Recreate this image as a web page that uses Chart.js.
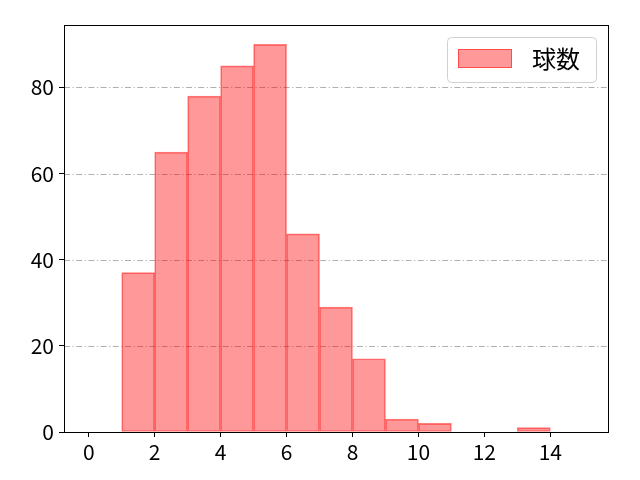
<!DOCTYPE html>
<html>
<head>
<meta charset="utf-8">
<script src="https://cdn.jsdelivr.net/npm/chart.js@4.4.0/dist/chart.umd.min.js"></script>
<style>
html,body{margin:0;padding:0;background:#fff;}
#wrap{width:640px;height:480px;position:relative;}
</style>
</head>
<body>
<div id="wrap"><canvas id="c" width="640" height="480"></canvas></div>
<script>
const binStarts = [0,1,2,3,4,5,6,7,8,9,10,11,12,13,14];
const counts = [0,37,65,78,85,90,46,29,17,3,2,0,0,1,0];
const seriesLabel = '球数';
const xTicks = [0,2,4,6,8,10,12,14];
const yTicks = [0,20,40,60,80];

const FONT = '"Noto Sans CJK JP", "DejaVu Sans", sans-serif';
const data = binStarts.map((s,i)=>({x:s+0.5, y:counts[i]}));

const framePlugin = {
  id:'frame',
  beforeDatasetsDraw(chart){
    const {ctx, chartArea:a, scales:{y}} = chart;
    ctx.save();
    ctx.strokeStyle = '#b0b0b0';
    ctx.lineWidth = 1;
    ctx.setLineDash([6,2.5,1.2,2.5]);
    yTicks.forEach(v=>{
      if (v===0) return;
      const py = Math.round(y.getPixelForValue(v))+0.5;
      ctx.beginPath(); ctx.moveTo(a.left,py); ctx.lineTo(a.right,py); ctx.stroke();
    });
    ctx.restore();
  },
  afterDraw(chart){
    const {ctx, chartArea:a} = chart;
    ctx.save();
    ctx.strokeStyle = '#000';
    ctx.lineWidth = 1;
    ctx.strokeRect(Math.round(a.left)+0.5, Math.round(a.top)+0.5, Math.round(a.right-a.left), Math.round(a.bottom-a.top));
    // legend
    const w=149, h=45;
    const lx = a.right - 12 - w, ly = a.top + 12;
    ctx.fillStyle = 'rgba(255,255,255,0.8)';
    ctx.strokeStyle = '#d0d0d0';
    ctx.beginPath();
    ctx.roundRect(lx+0.5, ly+0.5, w, h, 4);
    ctx.fill(); ctx.stroke();
    const ds = chart.data.datasets[0];
    ctx.fillStyle = ds.backgroundColor;
    ctx.fillRect(lx+11, ly+12, 54, 19);
    ctx.strokeStyle = ds.borderColor;
    ctx.strokeRect(lx+11.5, ly+12.5, 53, 18);
    ctx.fillStyle = '#000';
    ctx.font = '24px ' + FONT;
    ctx.textBaseline = 'middle';
    ctx.textAlign = 'left';
    ctx.fillText(ds.label, lx+85, ly+22);
    ctx.restore();
  }
};

new Chart(document.getElementById('c'), {
  type:'bar',
  data:{datasets:[{
    label: seriesLabel,
    data: data,
    backgroundColor:'rgba(255,0,0,0.4)',
    borderColor:'rgba(255,0,0,0.5)',
    borderWidth:1,
    barPercentage:1,
    categoryPercentage:1,
    borderSkipped:false
  }]},
  options:{
    responsive:false,
    animation:false,
    devicePixelRatio:1,
    layout:{padding:{top:25,right:32,left:0,bottom:0}},
    plugins:{legend:{display:false},tooltip:{enabled:false}},
    scales:{
      x:{
        type:'linear', min:-0.75, max:15.75, offset:false,
        afterBuildTicks(s){ s.ticks = xTicks.map(v=>({value:v})); },
        afterFit(s){ s.height = 48; },
        border:{display:false},
        grid:{offset:false, drawOnChartArea:false, drawTicks:true, tickLength:5, tickColor:'#000', color:'#000'},
        ticks:{color:'#000', font:{family:FONT, size:21}, padding:2, maxRotation:0, autoSkip:false}
      },
      y:{
        min:0, max:94.5,
        afterBuildTicks(s){ s.ticks = yTicks.map(v=>({value:v})); },
        afterFit(s){ s.width = 64; },
        border:{display:false},
        grid:{offset:false, drawOnChartArea:false, drawTicks:true, tickLength:5, tickColor:'#000', color:'#000'},
        ticks:{color:'#000', font:{family:FONT, size:21}, padding:5}
      }
    }
  },
  plugins:[framePlugin]
});
</script>
</body>
</html>
